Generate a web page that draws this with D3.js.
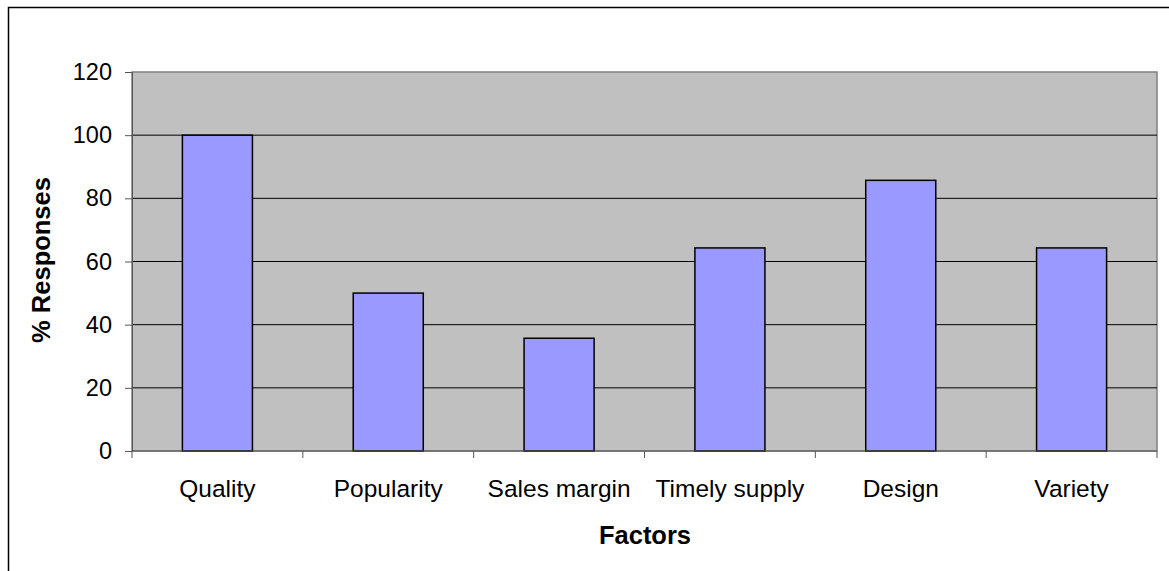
<!DOCTYPE html>
<html><head><meta charset="utf-8">
<script src="https://cdn.jsdelivr.net/npm/d3@7"></script>
<style>body{margin:0;background:#fff;} svg{display:block;font-family:"Liberation Sans",Arial,sans-serif;}</style>
</head><body>
<svg id="c" width="1169" height="571"></svg>
<script>
const categories = ["Quality","Popularity","Sales margin","Timely supply","Design","Variety"];
const values = [100, 50, 35.7, 64.3, 85.7, 64.3];
const yTicks = [0,20,40,60,80,100,120];

const svg = d3.select("#c");
const L = 132, T = 72, R = 1157, B = 451;

svg.append("rect").attr("x",8.5).attr("y",7.5).attr("width",1200).attr("height",700)
  .attr("fill","none").attr("stroke","#000").attr("stroke-width",1.5);

const x = d3.scaleBand().domain(categories).range([L,R]).paddingInner(0.59).paddingOuter(0.295);
const xc = d3.scaleBand().domain(categories).range([L,R]);
const y = d3.scaleLinear().domain([0,120]).range([B,T]);

svg.append("rect").attr("x",L).attr("y",T).attr("width",R-L).attr("height",B-T)
  .attr("fill","#c0c0c0").attr("stroke","#808080").attr("stroke-width",1.5);

svg.append("g").selectAll("line").data(yTicks.filter(d=>d>0&&d<120)).join("line")
  .attr("x1",L).attr("x2",R).attr("y1",d=>y(d)).attr("y2",d=>y(d))
  .attr("stroke","#000").attr("stroke-width",1);

svg.append("g").selectAll("rect").data(values).join("rect")
  .attr("x",(d,i)=>x(categories[i])).attr("width",x.bandwidth())
  .attr("y",d=>y(d)).attr("height",d=>B-y(d))
  .attr("fill","#9999ff").attr("stroke","#000").attr("stroke-width",1.5);

const ya = svg.append("g").attr("transform",`translate(${L},0)`)
  .call(d3.axisLeft(y).tickValues(yTicks).tickSize(7).tickPadding(13));
ya.select(".domain").attr("stroke","#555");
ya.selectAll(".tick line").attr("stroke","#555");
ya.selectAll("text").attr("font-size",23.5).attr("fill","#000").attr("font-family","Liberation Sans, Arial, sans-serif");

const xa = svg.append("g").attr("transform",`translate(0,${B})`)
  .call(d3.axisBottom(xc).tickSize(0).tickPadding(29));
xa.select(".domain").attr("stroke","#555").attr("d",`M${L},0H${R}`);
xa.selectAll("text").attr("font-size",24.5).attr("fill","#000").attr("font-family","Liberation Sans, Arial, sans-serif");
// boundary ticks between categories
svg.append("g").selectAll("line").data(categories.map((c,i)=>i).concat([categories.length])).join("line")
  .attr("x1",i=> i<categories.length ? xc(categories[i]) : R)
  .attr("x2",i=> i<categories.length ? xc(categories[i]) : R)
  .attr("y1",B).attr("y2",B+7).attr("stroke","#555");

svg.append("text").attr("x",645).attr("y",544).attr("text-anchor","middle")
  .attr("font-size",25.5).attr("font-weight","bold").text("Factors");
svg.append("text").attr("transform","translate(50,260) rotate(-90)").attr("text-anchor","middle")
  .attr("font-size",25.5).attr("font-weight","bold").text("% Responses");
</script>
</body></html>
